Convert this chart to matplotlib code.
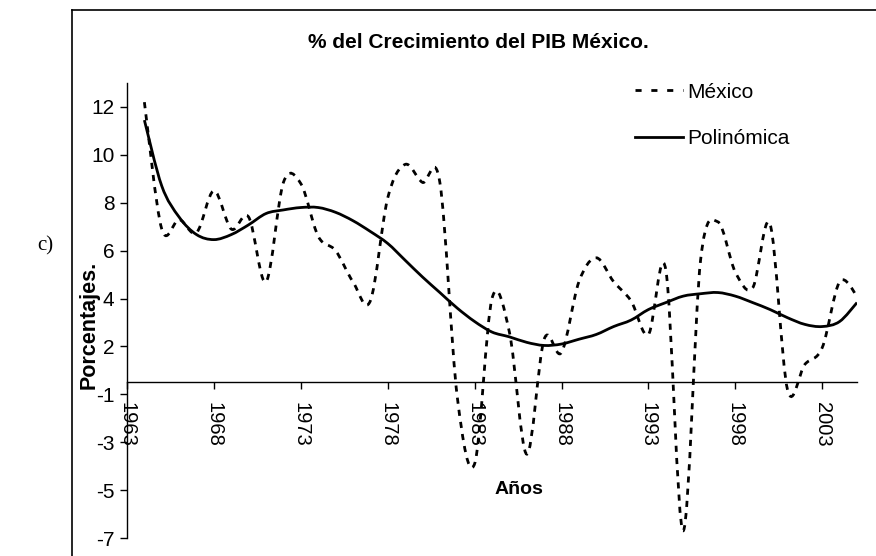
import matplotlib
matplotlib.use("Agg")
from matplotlib import pyplot as plt
from matplotlib.path import Path
from matplotlib.patches import PathPatch
from matplotlib.lines import Line2D
import numpy as np

plt.rcParams["font.family"] = ["Liberation Sans", "DejaVu Sans"]

years = list(range(1964, 2006))
# values as placed on the chart's vertical scale
mexico = [12.2, 6.9, 7.3, 6.75, 8.5, 6.9, 7.4, 4.7, 8.85, 8.8,
          6.6, 6.0, 4.7, 3.9, 8.2, 9.6, 8.85, 8.85, -0.1, -2.9,
          4.0, 2.6, -2.5, 2.3, 1.75, 4.7, 5.7, 4.7, 3.9, 2.5,
          5.2, -5.7, 5.6, 7.2, 5.1, 4.45, 7.1, 0.2, 1.25, 1.95,
          4.7, 4.1]
polinomica = [11.45, 8.7, 7.4, 6.67, 6.46, 6.67, 7.08, 7.55, 7.7, 7.8,
              7.8, 7.6, 7.25, 6.8, 6.3, 5.6, 4.9, 4.25, 3.6, 3.04,
              2.6, 2.4, 2.17, 2.04, 2.1, 2.3, 2.5, 2.83, 3.1, 3.54,
              3.83, 4.1, 4.2, 4.25, 4.1, 3.83, 3.54, 3.2, 2.92, 2.83,
              3.04, 3.83]

xticks = [1963, 1968, 1973, 1978, 1983, 1988, 1993, 1998, 2003]
yticks = [12, 10, 8, 6, 4, 2, 0, -2, -4, -6]
ytick_labels = ["12", "10", "8", "6", "4", "2", "-1", "-3", "-5", "-7"]


def smooth_path(xs, ys):
    pts = np.column_stack([xs, ys]).astype(float)
    verts = [pts[0]]
    codes = [Path.MOVETO]
    n = len(pts)
    for i in range(n - 1):
        p0 = pts[i - 1] if i > 0 else pts[i]
        p1 = pts[i]
        p2 = pts[i + 1]
        p3 = pts[i + 2] if i + 2 < n else pts[i + 1]
        verts += [p1 + (p2 - p0) / 6, p2 - (p3 - p1) / 6, p2]
        codes += [Path.CURVE4] * 3
    return Path(verts, codes)


W, H = 876, 556
fig = plt.figure(figsize=(W / 100, H / 100), dpi=100)
left, right, bottom, top = 127, 857, 538, 83
ax = fig.add_axes([left / W, 1 - bottom / H, (right - left) / W, (bottom - top) / H])

ax.add_patch(PathPatch(smooth_path(years, mexico), fill=False, color="black",
                       lw=2.0, linestyle=(0, (2.2, 2.2)), capstyle="butt"))
ax.add_patch(PathPatch(smooth_path(years, polinomica), fill=False, color="black", lw=2.0))

ax.set_xlim(1963, 2005)
ax.set_ylim(-6, 13)
ax.spines["top"].set_visible(False)
ax.spines["right"].set_visible(False)
ax.spines["bottom"].set_position(("data", 0.5))
ax.spines["left"].set_linewidth(1.0)
ax.spines["bottom"].set_linewidth(1.0)

ax.set_xticks(xticks)
ax.set_xticklabels([str(t) for t in xticks], rotation=270, fontsize=14.5)
ax.set_yticks(yticks)
ax.set_yticklabels(ytick_labels, fontsize=15)
ax.tick_params(axis="x", direction="out", length=5, width=1, pad=9)
ax.tick_params(axis="y", direction="out", length=5, width=1, pad=4)
for lab in ax.get_xticklabels():
    lab.set_va("top")
    lab.set_ha("center")

# legend
handles = [Line2D([], [], color="black", lw=2.0, linestyle=(0, (2.2, 3.5))),
           Line2D([], [], color="black", lw=2.0)]
fig.legend(handles, ["México", "Polinómica"], loc="upper left",
           bbox_to_anchor=(616 / W, 1 - 64 / H), frameon=False, fontsize=15,
           handlelength=2.3, handletextpad=0.2, labelspacing=1.3)

fig.text(478 / W, 1 - 42 / H, "% del Crecimiento del PIB México.", ha="center",
         va="center", fontsize=15, fontweight="bold")
fig.text(89 / W, 1 - 325 / H, "Porcentajes.", rotation=90, ha="center", va="center",
         fontsize=15.5, fontweight="bold")
fig.text(519 / W, 1 - 490 / H, "Años", ha="center", va="center", fontsize=14,
         fontweight="bold")
fig.text(45 / W, 1 - 246 / H, "c)", ha="center", va="center", fontsize=15,
         family="Liberation Serif")

# chart frame
fig.add_artist(Line2D([72 / W, 72 / W], [0, 1 - 10 / H], color="black", lw=1.2))
fig.add_artist(Line2D([72 / W, 1], [1 - 10 / H, 1 - 10 / H], color="black", lw=1.2))

fig.savefig("out.png", dpi=100)
